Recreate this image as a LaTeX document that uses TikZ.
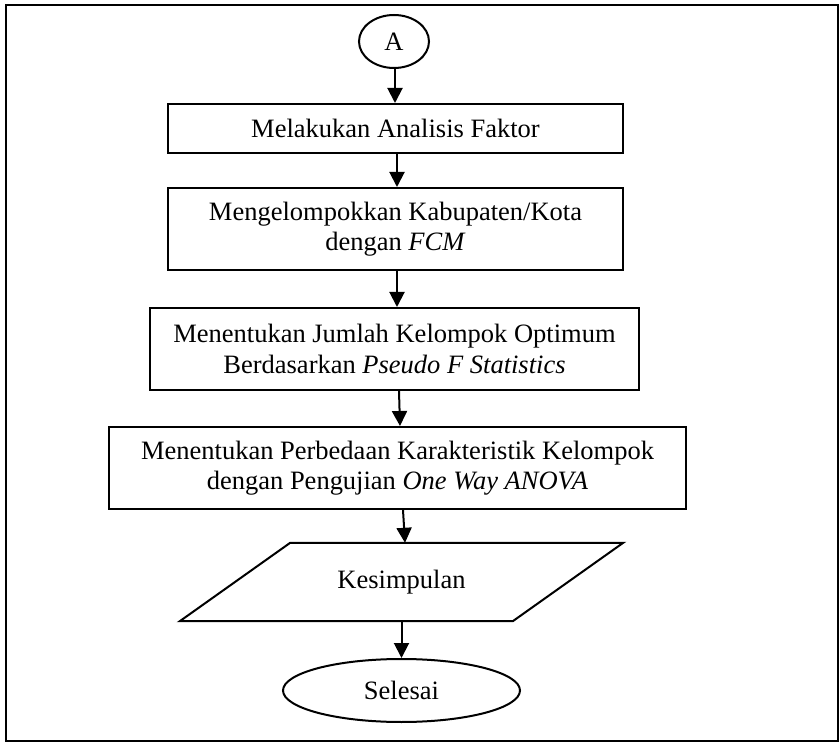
\documentclass[tikz,border=0pt]{standalone}
\usepackage{fontspec}
\setmainfont{Liberation Serif}
\usetikzlibrary{arrows.meta,shapes.geometric}
\tikzset{
  lbl/.style={font=\fontsize{26.5}{30.5}\selectfont, align=center, inner sep=0pt},
  procbox/.style={lbl, draw, line width=2pt, rectangle},
  termnode/.style={lbl, draw, line width=2pt, ellipse},
  arr/.style={line width=2pt, -{Triangle[width=15pt,length=15pt]}}
}
\begin{document}
\begin{tikzpicture}[x=1pt,y=-1pt]
\useasboundingbox (0,0) rectangle (839,743);
\draw[line width=2pt] (6,5) rectangle (838,741);

\node[termnode, minimum width=70pt, minimum height=53pt] (A) at (394,41.5) {A};
\node[procbox, minimum width=455pt, minimum height=49pt] (b1) at (395.5,128.5) {Melakukan Analisis Faktor};
\node[procbox, minimum width=455pt, minimum height=82pt] (b2) at (395.5,229) {Mengelompokkan Kabupaten/Kota\\dengan \textit{FCM}};
\node[procbox, minimum width=489pt, minimum height=82pt] (b3) at (394.5,349) {Menentukan Jumlah Kelompok Optimum\\Berdasarkan \textit{Pseudo F Statistics}};
\node[procbox, minimum width=577pt, minimum height=82pt] (b4) at (397.5,468) {Menentukan Perbedaan Karakteristik Kelompok\\dengan Pengujian \textit{One Way ANOVA}};
\node[lbl, minimum width=443pt, minimum height=78pt] (para) at (401.5,582) {Kesimpulan};
\draw[line width=2pt, line join=miter] (para.south west) -- ++(333,0) -- (para.north east) -- ++(-333,0) -- cycle;
\node[termnode, minimum width=237pt, minimum height=63pt] (end) at (401.5,690.5) {Selesai};

\draw[arr] ([xshift=1pt]A.south) -- ([xshift=1pt]A.south |- b1.north);
\draw[arr] ([xshift=1.5pt]b1.south) -- ([xshift=1.5pt]b2.north);
\draw[arr] ([xshift=1.5pt]b2.south) -- ([xshift=2.5pt]b3.north);
\draw[arr] ([xshift=4.5pt]b3.south) -- ([xshift=2.5pt]b4.north);
\draw[arr] ([xshift=5.5pt]b4.south) -- ([xshift=3.5pt]para.north);
\draw[arr] (para.south) -- (end.north);
\end{tikzpicture}
\end{document}
